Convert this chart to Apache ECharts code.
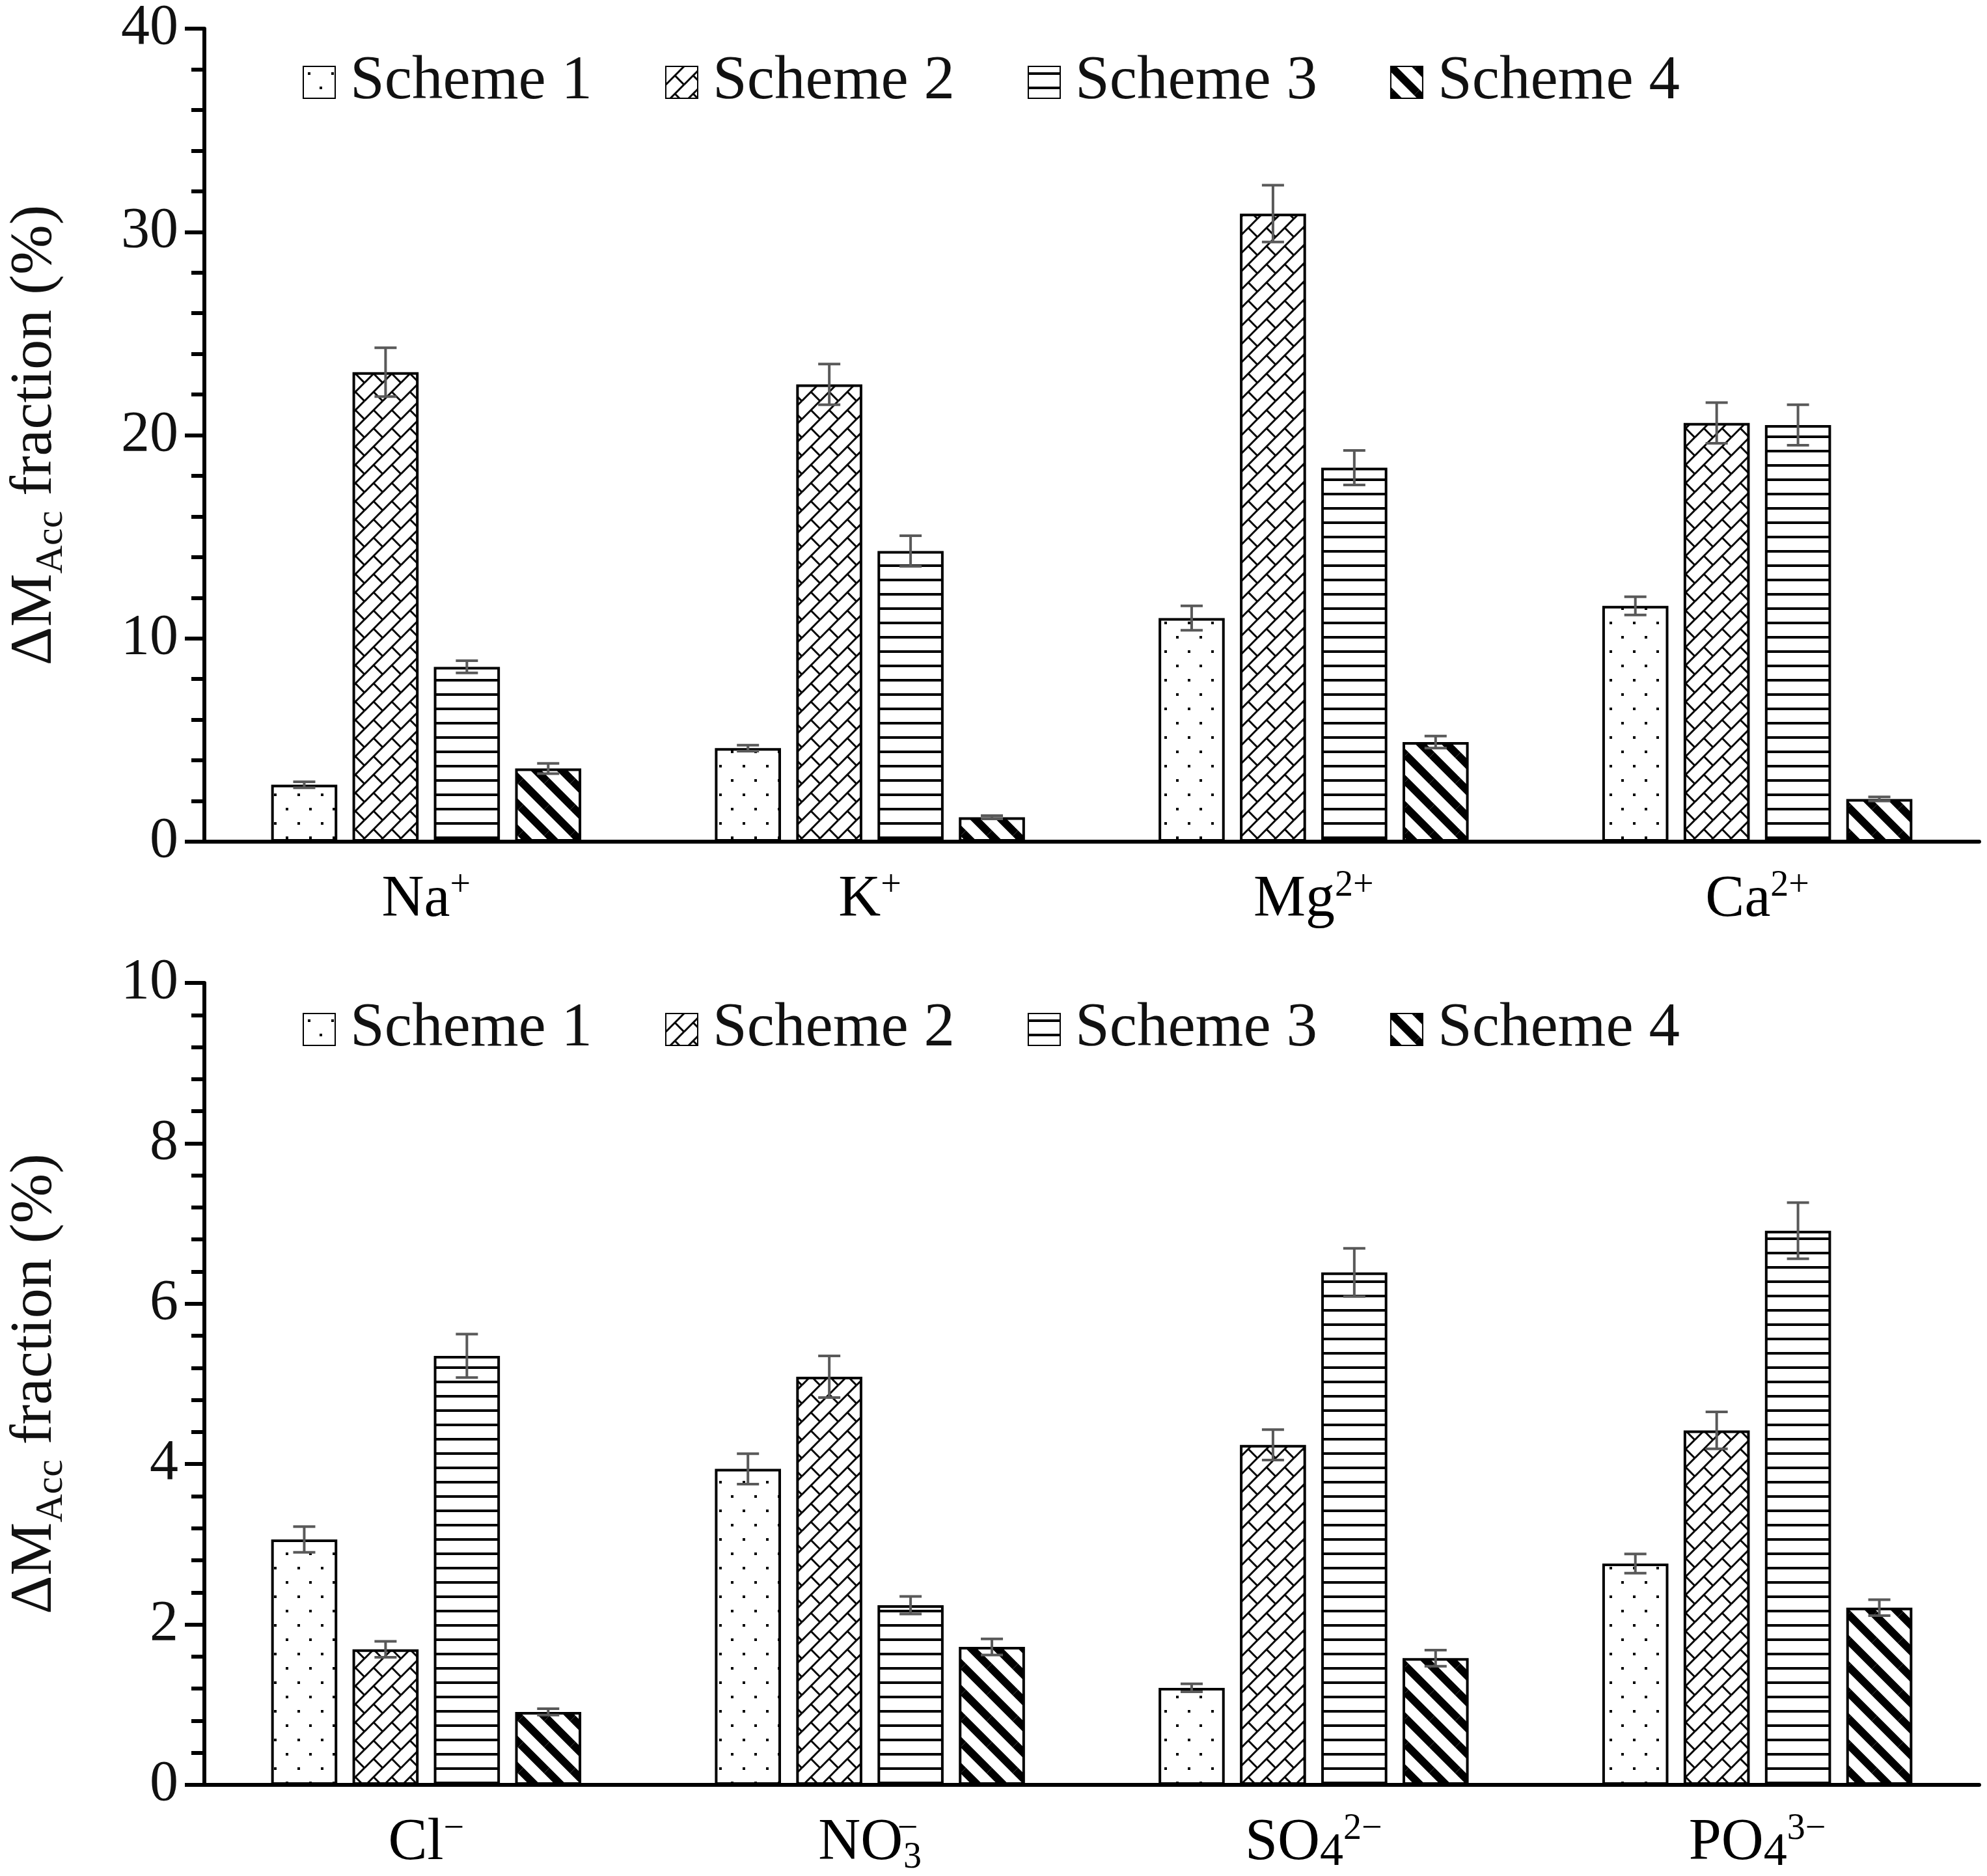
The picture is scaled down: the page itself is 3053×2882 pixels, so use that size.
<!DOCTYPE html>
<html><head><meta charset="utf-8">
<script src="https://cdn.jsdelivr.net/npm/echarts@6/dist/echarts.min.js"></script>
<style>html,body{margin:0;padding:0;background:#fff}#c{width:3053px;height:2882px}</style>
</head><body><div id="c"></div>
<script>
// ---------- data ----------
const schemes = ['Scheme 1', 'Scheme 2', 'Scheme 3', 'Scheme 4'];
const cationCats = ['Na+', 'K+', 'Mg2+', 'Ca2+'];
const anionCats = ['Cl-', 'NO3-', 'SO42-', 'PO43-'];
const cationTicks = [0, 10, 20, 30, 40];
const anionTicks = [0, 2, 4, 6, 8, 10];

const cationS1 = [2.8, 4.6, 11.0, 11.6];
const cationS2 = [23.1, 22.5, 30.9, 20.6];
const cationS3 = [8.6, 14.3, 18.4, 20.5];
const cationS4 = [3.6, 1.2, 4.9, 2.1];
const cationErr1 = [0.15, 0.15, 0.6, 0.45];
const cationErr2 = [1.2, 1.0, 1.4, 1.0];
const cationErr3 = [0.3, 0.75, 0.85, 1.0];
const cationErr4 = [0.25, 0.08, 0.3, 0.1];

const anionS1 = [3.06, 3.94, 1.21, 2.76];
const anionS2 = [1.69, 5.09, 4.24, 4.42];
const anionS3 = [5.35, 2.24, 6.39, 6.91];
const anionS4 = [0.91, 1.72, 1.58, 2.21];
const anionErr1 = [0.16, 0.19, 0.05, 0.12];
const anionErr2 = [0.1, 0.26, 0.19, 0.23];
const anionErr3 = [0.27, 0.11, 0.3, 0.35];
const anionErr4 = [0.04, 0.1, 0.1, 0.1];

// ---------- styling ----------
const FONT = 'Liberation Serif';
const BAR_FRAC = 0.149, GAP_FRAC = 0.23;

const labelRich = {
  n: { fontSize: 90, fontFamily: FONT, color: '#000', lineHeight: 100 },
  sup: { fontSize: 56, fontFamily: FONT, color: '#000', lineHeight: 44, verticalAlign: 'top' },
  supm: { fontSize: 56, fontFamily: FONT, color: '#000', lineHeight: 44, verticalAlign: 'top', width: 1, align: 'left' },
  sub: { fontSize: 56, fontFamily: FONT, color: '#000', lineHeight: 40, verticalAlign: 'bottom' },
  sub4: { fontSize: 72, fontFamily: FONT, color: '#000', lineHeight: 84, verticalAlign: 'bottom' }
};
const labelMap = {
  'Na+': '{n|Na}{sup|+}',
  'K+': '{n|K}{sup|+}',
  'Mg2+': '{n|Mg}{sup|2+}',
  'Ca2+': '{n|Ca}{sup|2+}',
  'Cl-': '{n|Cl}{sup|\u2212}',
  'NO3-': '{n|NO}{supm| \u2212}{sub|3}',
  'SO42-': '{n|SO}{sub4|4}{sup|2\u2212}',
  'PO43-': '{n|PO}{sub4|4}{sup|3\u2212}'
};

function pattern(w, h, draw) {
  const c = document.createElement('canvas');
  c.width = w; c.height = h;
  const g = c.getContext('2d');
  g.fillStyle = '#fff'; g.fillRect(0, 0, w, h);
  g.fillStyle = '#000'; g.strokeStyle = '#000';
  for (const dx of [-w, 0, w]) for (const dy of [-h, 0, h]) {
    g.save(); g.translate(dx, dy); draw(g, w, h); g.restore();
  }
  return { image: c, repeat: 'repeat' };
}
const patDots = pattern(36, 44, (g) => { g.fillRect(7, 9, 4, 4); g.fillRect(25, 31, 4, 4); });
const patBrick = pattern(28, 28, (g, w, h) => {
  g.lineWidth = 3;
  g.beginPath(); g.moveTo(0, h); g.lineTo(w, 0); g.stroke();
  g.beginPath(); g.moveTo(w / 2, h / 2); g.lineTo(w, h); g.stroke();
});
const patHoriz = pattern(22, 22, (g, w) => { g.fillRect(0, 9, w, 4); });
const patDiag = pattern(40, 40, (g, w, h) => {
  g.lineWidth = 12; g.beginPath(); g.moveTo(0, 0); g.lineTo(w, h); g.stroke();
});
const patterns = [patDots, patBrick, patHoriz, patDiag];

function barSeries(name, idx, data, axis) {
  return {
    type: 'bar', name, data, xAxisIndex: axis, yAxisIndex: axis,
    barWidth: (BAR_FRAC * 100) + '%', barGap: (GAP_FRAC * 100) + '%',
    itemStyle: { color: patterns[idx], borderColor: '#000', borderWidth: 4 },
    emphasis: { disabled: true }
  };
}
function errSeries(vals, errs, axis) {
  const data = [];
  vals.forEach((arr, si) => arr.forEach((v, ci) => data.push([ci, v, errs[si][ci], si])));
  return {
    type: 'custom', xAxisIndex: axis, yAxisIndex: axis, z: 10, data,
    encode: { x: 0, y: 1 },
    renderItem(params, api) {
      const ci = api.value(0), v = api.value(1), e = api.value(2), si = api.value(3);
      const band = api.size([1, 0])[0];
      const bw = band * BAR_FRAC;
      const off = (si - 1.5) * bw * (1 + GAP_FRAC);
      const t = api.coord([ci, v + e]);
      const b = api.coord([ci, v - e]);
      const x = t[0] + off;
      const cap = 17;
      const st = { stroke: '#595959', lineWidth: 4 };
      return {
        type: 'group', children: [
          { type: 'line', shape: { x1: x, y1: t[1], x2: x, y2: b[1] }, style: st },
          { type: 'line', shape: { x1: x - cap, y1: t[1], x2: x + cap, y2: t[1] }, style: st },
          { type: 'line', shape: { x1: x - cap, y1: b[1], x2: x + cap, y2: b[1] }, style: st }
        ]
      };
    }
  };
}

function yAxis(gridIndex, ticks) {
  const interval = ticks[1] - ticks[0];
  return {
    type: 'value', gridIndex, min: ticks[0], max: ticks[ticks.length - 1], interval,
    axisLine: { show: true, lineStyle: { color: '#000', width: 6 } },
    axisTick: { show: true, length: 30, lineStyle: { color: '#000', width: 6 } },
    minorTick: { show: true, splitNumber: 5, length: 20, lineStyle: { color: '#000', width: 6 } },
    splitLine: { show: false },
    axisLabel: { fontFamily: FONT, fontSize: 88, color: '#111', margin: 40 },
    name: '{a|\u0394M}{s|Acc}{a| fraction (%)}',
    nameLocation: 'middle', nameRotate: 90, nameGap: 205,
    nameTextStyle: {
      fontFamily: FONT, color: '#111',
      rich: {
        a: { fontFamily: FONT, fontSize: 92, color: '#111', lineHeight: 110 },
        s: { fontFamily: FONT, fontSize: 60, color: '#111', lineHeight: 40, verticalAlign: 'bottom' }
      }
    }
  };
}
function xAxis(gridIndex, cats) {
  return {
    type: 'category', gridIndex, data: cats,
    axisLine: { show: true, lineStyle: { color: '#000', width: 6 } },
    axisTick: { show: false },
    axisLabel: {
      interval: 0, margin: 40, formatter: (v) => labelMap[v], rich: labelRich,
      fontFamily: FONT, fontSize: 90, color: '#000'
    }
  };
}
function legend(top) {
  return {
    data: schemes, top, left: 460, icon: 'rect', itemWidth: 49, itemHeight: 49, itemGap: 112,
    selectedMode: false,
    textStyle: { fontFamily: FONT, fontSize: 95, color: '#111', padding: [0, 0, 0, 18] }
  };
}

const chart = echarts.init(document.getElementById('c'));
chart.setOption({
  animation: false,
  backgroundColor: '#fff',
  grid: [
    { left: 312, right: 12, top: 43, height: 1250 },
    { left: 312, right: 12, top: 1510, height: 1238 }
  ],
  legend: [legend(74), legend(1529)],
  xAxis: [xAxis(0, cationCats), xAxis(1, anionCats)],
  yAxis: [yAxis(0, cationTicks), yAxis(1, anionTicks)],
  series: [
    barSeries(schemes[0], 0, cationS1, 0),
    barSeries(schemes[1], 1, cationS2, 0),
    barSeries(schemes[2], 2, cationS3, 0),
    barSeries(schemes[3], 3, cationS4, 0),
    barSeries(schemes[0], 0, anionS1, 1),
    barSeries(schemes[1], 1, anionS2, 1),
    barSeries(schemes[2], 2, anionS3, 1),
    barSeries(schemes[3], 3, anionS4, 1),
    errSeries([cationS1, cationS2, cationS3, cationS4], [cationErr1, cationErr2, cationErr3, cationErr4], 0),
    errSeries([anionS1, anionS2, anionS3, anionS4], [anionErr1, anionErr2, anionErr3, anionErr4], 1)
  ]
});
</script>
</body></html>
